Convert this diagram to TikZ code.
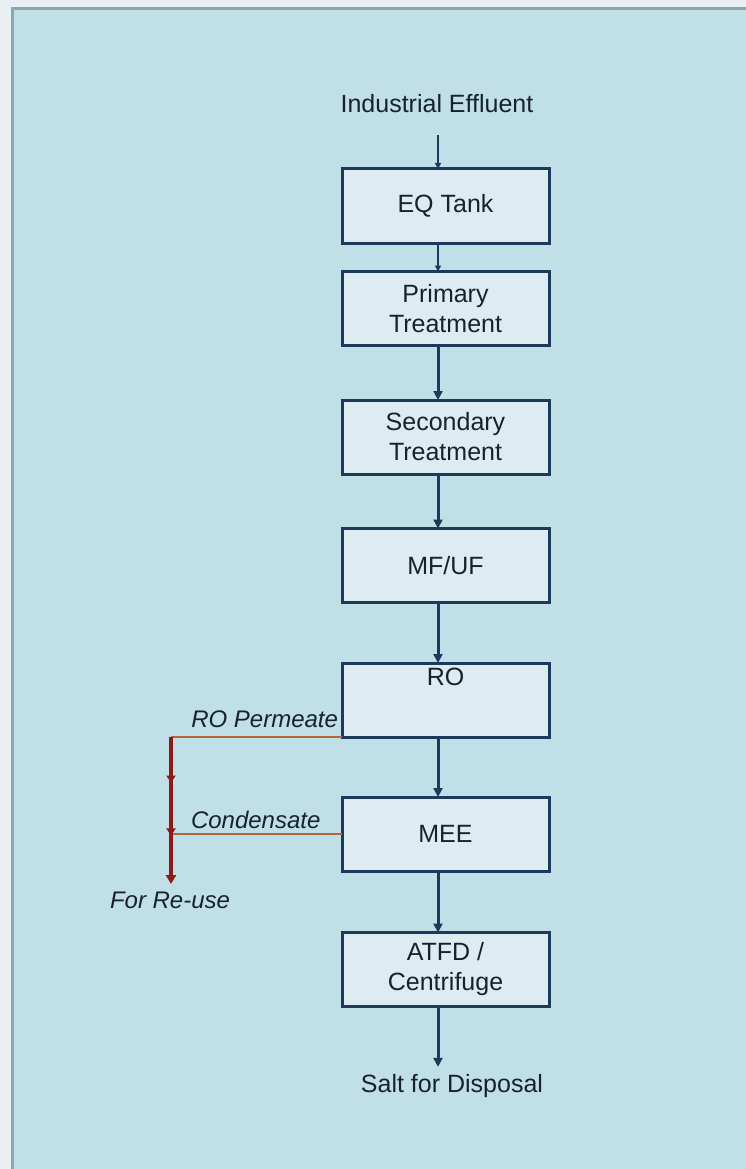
\documentclass[tikz,border=0pt]{standalone}
\usepackage{fontspec}
\setmainfont{Liberation Sans}
\usetikzlibrary{arrows.meta,decorations.markings}
\definecolor{pageout}{HTML}{E8F0F4}
\definecolor{panel}{HTML}{C0DFE7}
\definecolor{panelrim}{HTML}{8FA3B0}
\definecolor{boxfill}{HTML}{DCECF1}
\definecolor{navy}{HTML}{1D3A5C}
\definecolor{inkc}{HTML}{17222E}
\definecolor{reusered}{HTML}{8B1A1A}
\definecolor{tapline}{HTML}{B4663A}
\begin{document}
\begin{tikzpicture}[x=1pt,y=-1pt,inner sep=0pt,outer sep=0pt,
font=\fontsize{25}{30}\selectfont,text=inkc,
procblock/.style={draw=navy,fill=boxfill,rectangle,line width=3pt,minimum width=207pt,minimum height=74pt,align=center},
flow/.style={draw=navy,line width=3pt,-{Triangle[length=9pt,width=9pt]}},
thinflow/.style={draw=navy,line width=2pt,-{Triangle[length=6pt,width=6pt]}},
branch/.style={draw=tapline,line width=2pt},
reuse/.style={draw=reusered,line width=4pt,-{Triangle[length=9pt,width=10pt]}},
flowlabel/.style={font=\fontsize{24}{28}\selectfont\itshape}]
\useasboundingbox (0,0) rectangle (746,1169);
\fill[pageout] (0,0) rectangle (746,1169);
\draw[draw=panelrim,fill=panel,line width=3pt] (12,9) rectangle (770,1190);

\coordinate (spine) at (438,0);
\coordinate (tap) at (171,0);

\draw (437,113) node[anchor=base] (IE) {Industrial Effluent};
\draw (445.5,206) node[procblock] (EQ) {EQ Tank};
\draw (445.5,308.5) node[procblock] (PT) {Primary\\Treatment};
\draw (445.5,437) node[procblock] (ST) {Secondary\\Treatment};
\draw (445.5,565.5) node[procblock] (MF) {MF/UF};
\draw (445.5,700) node[procblock,label={[anchor=north,yshift=-5pt]north:RO}] (RO) {};
\draw (445.5,834) node[procblock] (MEE) {MEE};
\draw (445.5,969.5) node[procblock] (ATFD) {ATFD /\\Centrifuge};
\draw (452,1092) node[anchor=base] (SD) {Salt for Disposal};

\draw[thinflow,shorten <=22pt] (IE.south -| spine) -- (EQ.north -| spine);
\draw[thinflow] (EQ.south -| spine) -- (PT.north -| spine);
\draw[flow] (PT.south -| spine) -- (ST.north -| spine);
\draw[flow] (ST.south -| spine) -- (MF.north -| spine);
\draw[flow] (MF.south -| spine) -- (RO.north -| spine);
\draw[flow] (RO.south -| spine) -- (MEE.north -| spine);
\draw[flow] (MEE.south -| spine) -- (ATFD.north -| spine);
\draw[flow,shorten >=7pt] (ATFD.south -| spine) -- (SD.north -| spine);

% streams sent back for re-use
\coordinate (reuseend) at (171,884);
\draw[branch] (RO.south west) -- (RO.south west -| tap);
\draw[branch] (MEE.west) -- (MEE.west -| tap);
\draw[reuse,postaction={decorate},decoration={markings,
mark=at position 0.31 with {\arrow{Triangle[length=7pt,width=9pt]}},
mark=at position 0.67 with {\arrow{Triangle[length=7pt,width=9pt]}}}]
(RO.south west -| tap) -- (reuseend);

\draw (338,727) node[flowlabel,anchor=base east] (perm) {RO Permeate};
\draw (191,828) node[flowlabel,anchor=base west] (cond) {Condensate};
\draw (110,908) node[flowlabel,anchor=base west] (forreuse) {For Re-use};
\end{tikzpicture}
\end{document}
